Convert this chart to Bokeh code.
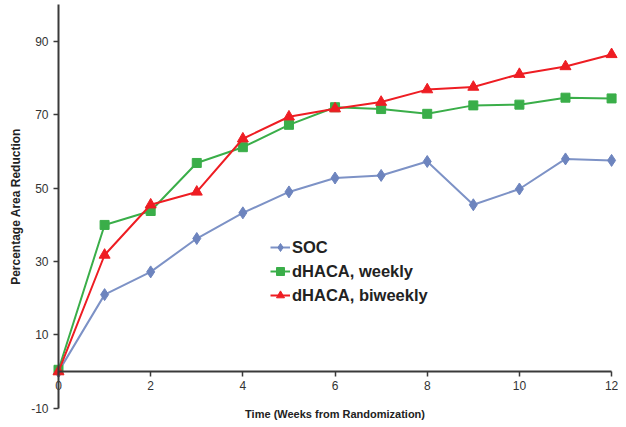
from bokeh.plotting import figure
from bokeh.models import Range1d, LinearAxis, FixedTicker, Legend, LegendItem, Label, PrintfTickFormatter
from bokeh.embed import file_html
from bokeh.resources import INLINE

weeks = [0, 1, 2, 3, 4, 5, 6, 7, 8, 9, 10, 11, 12]
soc = [0, 21.0, 27.2, 36.3, 43.3, 49.0, 52.8, 53.5, 57.3, 45.5, 49.8, 58.0, 57.6]
weekly = [0.5, 40.0, 43.8, 56.9, 61.2, 67.3, 72.1, 71.6, 70.3, 72.6, 72.8, 74.7, 74.5]
biweekly = [0, 31.8, 45.5, 49.0, 63.5, 69.5, 71.7, 73.5, 76.9, 77.6, 81.1, 83.2, 86.5]

series_names = ["SOC", "dHACA, weekly", "dHACA, biweekly"]
x_ticks = [0, 2, 4, 6, 8, 10, 12]
y_ticks = [-10, 10, 30, 50, 70, 90]

FONT = "Liberation Sans"

p = figure(width=618, height=421, x_range=Range1d(-1.15, 12.15), y_range=Range1d(-13.6, 101.2),
           x_axis_type=None, y_axis_type=None, toolbar_location=None, output_backend="svg",
           min_border_left=5, min_border_right=0, min_border_top=0, min_border_bottom=0)
p.outline_line_color = None
p.xgrid.visible = False
p.ygrid.visible = False
p.background_fill_color = "white"

xaxis = LinearAxis(fixed_location=0, ticker=FixedTicker(ticks=x_ticks), bounds=(0, 12),
                   formatter=PrintfTickFormatter(format="%d"),
                   major_tick_in=0, major_tick_out=5, minor_tick_line_color=None,
                   axis_line_width=2, axis_line_color="#3a3a3a", major_tick_line_color="#3a3a3a",
                   major_tick_line_width=1.5,
                   major_label_text_font=FONT, major_label_text_font_size="12px",
                   major_label_text_color="#333333", major_label_standoff=4)
p.add_layout(xaxis, "below")

yaxis = LinearAxis(fixed_location=0, ticker=FixedTicker(ticks=y_ticks), bounds=(-10, 100),
                   formatter=PrintfTickFormatter(format="%d"),
                   major_tick_in=0, major_tick_out=5, minor_tick_line_color=None,
                   axis_line_width=2, axis_line_color="#3a3a3a", major_tick_line_color="#3a3a3a",
                   major_tick_line_width=1.5,
                   major_label_text_font=FONT, major_label_text_font_size="12px",
                   major_label_text_color="#333333", major_label_standoff=5,
                   axis_label="Percentage Area Reduction", axis_label_text_font=FONT,
                   axis_label_text_font_size="12px", axis_label_text_font_style="bold",
                   axis_label_text_color="#222222", axis_label_standoff=5)
p.add_layout(yaxis, "left")

l1 = p.line(weeks, soc, line_color="#7d92c6", line_width=2)
s1 = p.scatter(weeks, soc, marker="diamond", size=12, fill_color="#6d84be", line_color="#6d84be")
l2 = p.line(weeks, weekly, line_color="#3aae49", line_width=2)
s2 = p.scatter(weeks, weekly, marker="square", size=9, fill_color="#3aae49", line_color="#3aae49")
l3 = p.line(weeks, biweekly, line_color="#ee1d23", line_width=2)
s3 = p.scatter(weeks, biweekly, marker="triangle", size=11, fill_color="#ee1d23", line_color="#ee1d23")

legend = Legend(items=[LegendItem(label=series_names[0], renderers=[l1, s1]),
                       LegendItem(label=series_names[1], renderers=[l2, s2]),
                       LegendItem(label=series_names[2], renderers=[l3, s3])],
                location=(265, 116), border_line_color=None, background_fill_alpha=0,
                padding=0, margin=0, spacing=4, glyph_width=20, glyph_height=20,
                label_height=20, label_standoff=2, label_text_font=FONT,
                label_text_font_style="bold", label_text_font_size="16.5px",
                label_text_color="#222222")
p.add_layout(legend)

xtitle = Label(x=6, y=-11.5, text="Time (Weeks from Randomization)", text_align="center",
               text_baseline="middle", text_font=FONT, text_font_style="bold",
               text_font_size="11px", text_color="#222222")
p.add_layout(xtitle)

open("out.html", "w").write(file_html(p, INLINE))
